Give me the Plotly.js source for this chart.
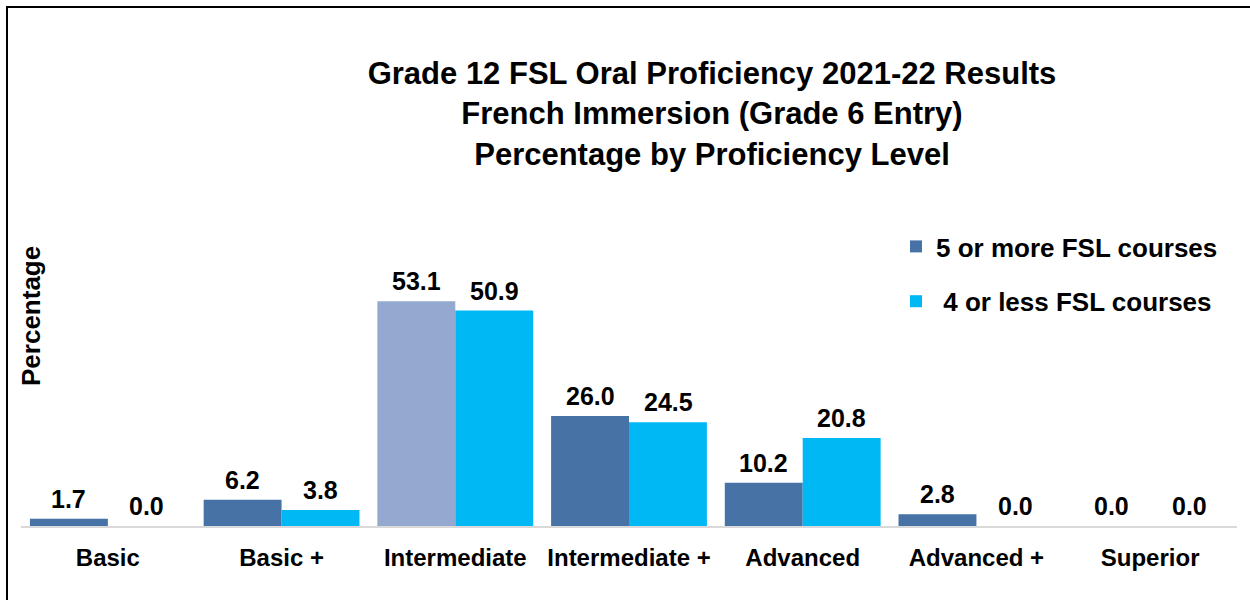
<!DOCTYPE html>
<html>
<head>
<meta charset="utf-8">
<script src="https://cdn.plot.ly/plotly-3.0.1.min.js"></script>
<style>html,body{margin:0;padding:0;background:#fff;}#chart{width:1250px;height:600px;}</style>
</head>
<body>
<div id="chart"></div>
<script>
const categories = ["Basic", "Basic +", "Intermediate", "Intermediate +", "Advanced", "Advanced +", "Superior"];
const seriesNames = ["5 or more FSL courses", " 4 or less FSL courses"];
const fiveOrMore = [1.7, 6.2, 53.1, 26.0, 10.2, 2.8, 0.0];
const fourOrLess = [0.0, 3.8, 50.9, 24.5, 20.8, 0.0, 0.0];
const titleLines = ["Grade 12 FSL Oral Proficiency 2021-22 Results", "French Immersion (Grade 6 Entry)", "Percentage by Proficiency Level"];
const yTitle = "Percentage";

const FONT = "Liberation Sans, Arial, sans-serif";
const c1 = "#4672A6", c1hi = "#95A9D0", c2 = "#00B8F4";
const c1colors = categories.map((c, i) => i === 2 ? c1hi : c1);

// plot area in pixels: left 21, right 1237, top 272, bottom 526
const PL = 21, PW = 1216, PB = 526, PH = 254;
const px = v => (v - PL) / PW;
const py = v => (PB - v) / PH;

const traces = [
  {type: "bar", name: seriesNames[0], x: categories, y: fiveOrMore, marker: {color: c1colors}, legendgroup: "a", hoverinfo: "x+y"},
  {type: "bar", name: seriesNames[1], x: categories, y: fourOrLess, marker: {color: c2}, legendgroup: "b", hoverinfo: "x+y"}
];

const annotations = [];
[[fiveOrMore, -39], [fourOrLess, 39]].forEach(([vals, dx]) => {
  vals.forEach((v, i) => {
    annotations.push({x: categories[i], y: v, xref: "x", yref: "y", text: v.toFixed(1), showarrow: false,
      xshift: dx, yshift: 4, yanchor: "bottom", xanchor: "center",
      font: {family: FONT, size: 25, color: "#000", weight: 700}});
  });
});
annotations.push({xref: "paper", yref: "paper", x: px(31), y: py(316), text: yTitle, textangle: -90,
  showarrow: false, xanchor: "center", yanchor: "middle", font: {family: FONT, size: 26, color: "#000", weight: 700}});

const layout = {
  width: 1250, height: 600,
  margin: {l: PL, r: 1250 - PL - PW, t: PB - PH, b: 600 - PB, autoexpand: false},
  paper_bgcolor: "#fff", plot_bgcolor: "#fff",
  barmode: "group", bargap: 0.103, bargroupgap: 0,
  title: {text: titleLines.join("<br>"), xref: "container", yref: "container", x: 712/1250, xanchor: "center",
    y: 1 - 84/600, yanchor: "top", font: {family: FONT, size: 31, color: "#000", weight: 700}},
  xaxis: {showline: true, linecolor: "#D9D9D9", linewidth: 2, ticks: "", showgrid: false, zeroline: false,
    tickangle: 0, automargin: false,
    ticklabelstandoff: 9, tickfont: {family: FONT, size: 24, color: "#000", weight: 700}, fixedrange: true},
  yaxis: {range: [0, 60], visible: false, showgrid: false, zeroline: false, fixedrange: true, automargin: false},
  showlegend: true,
  legend: {xref: "paper", yref: "paper", x: px(896), y: py(223), xanchor: "left", yanchor: "top",
    traceorder: "grouped", tracegroupgap: 18, bgcolor: "rgba(0,0,0,0)",
    font: {family: FONT, size: 26, color: "#000", weight: 700}},
  annotations: annotations,
  shapes: [{type: "rect", xref: "paper", yref: "paper", x0: px(7), x1: 1.2, y0: -1, y1: py(7),
    line: {color: "#000", width: 2}, fillcolor: "rgba(0,0,0,0)", layer: "above"}]
};

Plotly.newPlot("chart", traces, layout, {staticPlot: true, displayModeBar: false});
</script>
</body>
</html>
